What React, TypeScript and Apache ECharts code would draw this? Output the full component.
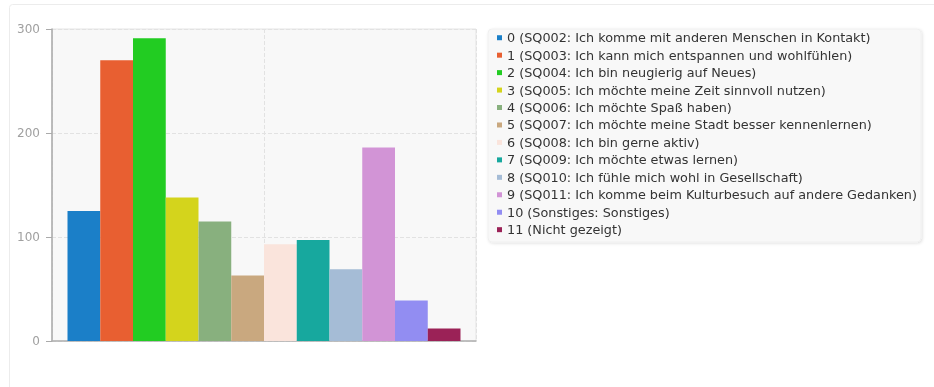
import React, { useEffect, useRef } from "react";
import * as echarts from "echarts";

const seriesNames = [
  "0 (SQ002: Ich komme mit anderen Menschen in Kontakt)",
  "1 (SQ003: Ich kann mich entspannen und wohlfühlen)",
  "2 (SQ004: Ich bin neugierig auf Neues)",
  "3 (SQ005: Ich möchte meine Zeit sinnvoll nutzen)",
  "4 (SQ006: Ich möchte Spaß haben)",
  "5 (SQ007: Ich möchte meine Stadt besser kennenlernen)",
  "6 (SQ008: Ich bin gerne aktiv)",
  "7 (SQ009: Ich möchte etwas lernen)",
  "8 (SQ010: Ich fühle mich wohl in Gesellschaft)",
  "9 (SQ011: Ich komme beim Kulturbesuch auf andere Gedanken)",
  "10 (Sonstiges: Sonstiges)",
  "11 (Nicht gezeigt)",
];

const seriesValues = [125, 270, 291, 138, 115, 63, 93, 97, 69, 186, 39, 12];

const seriesColors = [
  "#1b7fc8",
  "#e85f31",
  "#22cc22",
  "#d4d41c",
  "#88b07e",
  "#c9a87f",
  "#fae4dc",
  "#17a89e",
  "#a5bcd6",
  "#d294d6",
  "#928df2",
  "#9b2257",
];

const yTicks = { min: 0, max: 300, interval: 100 };

export default function App() {
  const ref = useRef<HTMLDivElement>(null);

  useEffect(() => {
    if (!ref.current) return;
    const chart = echarts.init(ref.current, undefined, { renderer: "svg" });
    const font = "DejaVu Sans";
    chart.setOption({
      animation: false,
      textStyle: { fontFamily: font },
      graphic: [
        {
          type: "rect",
          z: -10,
          silent: true,
          shape: { x: 9.5, y: 4.5, width: 940, height: 420, r: 3 },
          style: { fill: "#ffffff", stroke: "#ececec", lineWidth: 1 },
        },
        {
          type: "rect",
          z: -5,
          silent: true,
          shape: { x: 488, y: 29, width: 433, height: 213, r: 4 },
          style: {
            fill: "#f8f8f8",
            stroke: "#f0f0f0",
            lineWidth: 1,
            shadowBlur: 3,
            shadowOffsetX: 1,
            shadowOffsetY: 1,
            shadowColor: "rgba(0,0,0,0.12)",
          },
        },
      ],
      grid: {
        left: 52,
        top: 29,
        right: 934 - 476,
        bottom: 387 - 341,
        show: true,
        backgroundColor: "#f8f8f8",
        borderColor: "#e4e4e4",
        borderWidth: 1,
      },
      legend: {
        orient: "vertical",
        left: 497,
        top: 29,
        padding: 0,
        itemWidth: 5,
        itemHeight: 5,
        itemGap: 0,
        icon: "rect",
        data: seriesNames,
        textStyle: {
          fontFamily: font,
          fontSize: 12.8,
          color: "#333",
          lineHeight: 17.45,
        },
      },
      xAxis: {
        type: "value",
        min: -1,
        max: 1,
        interval: 1,
        axisLabel: { show: false },
        axisTick: { show: false },
        axisLine: {
          show: true,
          onZero: false,
          lineStyle: { color: "#b0b0b0", width: 1.5 },
        },
        splitLine: {
          show: true,
          lineStyle: { color: "#e2e2e2", type: "dashed" },
        },
      },
      yAxis: {
        type: "value",
        min: yTicks.min,
        max: yTicks.max,
        interval: yTicks.interval,
        axisLine: {
          show: true,
          onZero: false,
          lineStyle: { color: "#aaaaaa", width: 1.5 },
        },
        axisTick: { show: true, length: 6, lineStyle: { color: "#aaaaaa" } },
        axisLabel: {
          color: "#a0a0a0",
          fontSize: 12,
          fontFamily: font,
          margin: 12,
        },
        splitLine: {
          show: true,
          lineStyle: { color: "#e2e2e2", type: "dashed" },
        },
      },
      series: seriesNames.map((name, i) => ({
        type: "bar",
        name,
        data: [[0, seriesValues[i]]],
        barWidth: 32.75,
        barGap: "0%",
        itemStyle: { color: seriesColors[i] },
      })),
    });
    return () => chart.dispose();
  }, []);

  return (
    <div
      ref={ref}
      style={{ position: "fixed", left: 0, top: 0, width: 934, height: 387 }}
    />
  );
}
